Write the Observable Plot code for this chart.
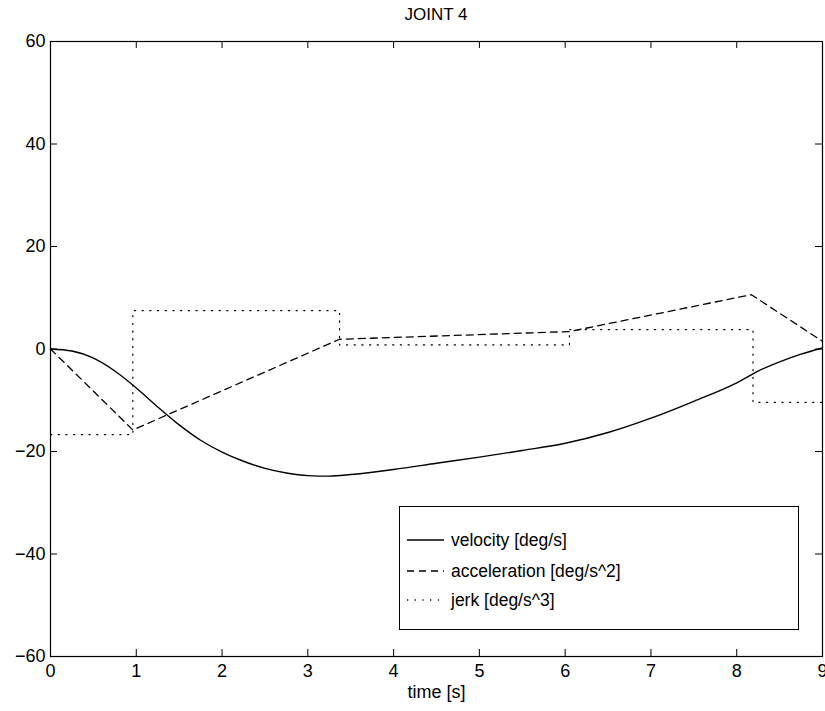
<!DOCTYPE html>
<html>
<head>
<meta charset="utf-8">
<script src="https://cdn.jsdelivr.net/npm/d3@7"></script>
<script src="https://cdn.jsdelivr.net/npm/@observablehq/plot@0.6"></script>
<style>
  body { margin: 0; background: #fff; }
  #wrap { position: relative; width: 825px; height: 711px; font-family: "Liberation Sans", Arial, Helvetica, sans-serif; }
  #title { height: 28px; box-sizing: border-box; padding: 5px 3px 0 50px; text-align: center; font-size: 17px; line-height: 19px; color: #000; }
  #legend { position: absolute; left: 399px; top: 506px; width: 400px; height: 124px; border: 1px solid #000; background: #fff; box-sizing: border-box; }
  .row { position: absolute; left: 7px; height: 20px; display: flex; align-items: center; font-size: 17.5px; color: #000; }
  .row svg { margin-right: 7px; }
</style>
</head>
<body>
<div id="wrap">
  <div id="title">JOINT 4</div>
  <div id="chart"></div>
  <div id="legend"></div>
</div>
<script>
// ---- data ----
const velT = [0, 0.25, 0.5, 0.75, 1.0, 1.25, 1.5, 1.75, 2.0, 2.25, 2.5, 2.75, 3.0, 3.25, 3.5, 4.0, 4.5, 5.0, 5.5, 6.0, 6.5, 7.0, 7.5, 8.0, 8.25, 8.5, 8.75, 9.0];
const velV = [0, -0.4, -1.8, -4.3, -7.6, -11.3, -14.8, -17.8, -20.1, -21.9, -23.3, -24.2, -24.7, -24.8, -24.5, -23.5, -22.3, -21.1, -19.8, -18.4, -16.3, -13.5, -10.2, -6.6, -4.3, -2.5, -1.0, 0.2];
const accT = [0, 0.96, 3.37, 6.05, 8.17, 9.0];
const accV = [0, -15.8, 1.9, 3.4, 10.6, 1.5];
const jerkT = [0, 0.96, 3.37, 6.05, 8.19, 9.0];
const jerkV = [-16.7, 7.5, 0.8, 3.8, -10.4, -10.4];
const xTicks = [0, 1, 2, 3, 4, 5, 6, 7, 8, 9];
const yTicks = [-60, -40, -20, 0, 20, 40, 60];
const seriesNames = ["velocity [deg/s]", "acceleration [deg/s^2]", "jerk [deg/s^3]"];
const titleText = "JOINT 4";
const xLabel = "time [s]";

const vel = velT.map((t, i) => ({t, v: velV[i]}));
const acc = accT.map((t, i) => ({t, v: accV[i]}));
const jerk = jerkT.map((t, i) => ({t, v: jerkV[i]}));

const W = 825, H = 683, mT = 13, mB = 55, mL = 50, mR = 3;
const plotH = H - mT - mB, plotW = W - mL - mR, tk = 7;
const dashAcc = "7,5", dashJerk = "1.2,6.5";

const chart = Plot.plot({
  width: W, height: H,
  marginTop: mT, marginBottom: mB, marginLeft: mL, marginRight: mR,
  style: {fontFamily: "'Liberation Sans', Arial, Helvetica, sans-serif", fontSize: "18px", color: "#000", background: "#fff", overflow: "visible"},
  x: {domain: [0, 9]},
  y: {domain: [-60, 60]},
  marks: [
    Plot.frame({stroke: "#000", strokeWidth: 1.2}),
    Plot.tickX(xTicks, {x: d => d, insetTop: plotH - tk, stroke: "#000"}),
    Plot.tickX(xTicks, {x: d => d, insetBottom: plotH - tk, stroke: "#000"}),
    Plot.tickY(yTicks, {y: d => d, insetRight: plotW - tk, stroke: "#000"}),
    Plot.tickY(yTicks, {y: d => d, insetLeft: plotW - tk, stroke: "#000"}),
    Plot.axisX({ticks: xTicks, tickSize: 0, tickPadding: 8, fontSize: 18, label: xLabel, labelAnchor: "center", labelArrow: "none", labelOffset: 41}),
    Plot.axisY({ticks: yTicks, tickSize: 0, tickPadding: 5, fontSize: 18, label: null}),
    Plot.line(jerk, {x: "t", y: "v", curve: "step-after", stroke: "#000", strokeWidth: 1.2, strokeDasharray: dashJerk}),
    Plot.line(acc, {x: "t", y: "v", stroke: "#000", strokeWidth: 1.3, strokeDasharray: dashAcc}),
    Plot.line(vel, {x: "t", y: "v", curve: "monotone-x", stroke: "#000", strokeWidth: 1.4})
  ]
});
document.getElementById("chart").appendChild(chart);
document.getElementById("title").textContent = titleText;

// legend
const legend = document.getElementById("legend");
const dashes = [null, dashAcc, dashJerk];
const tops = [23, 54, 83];
seriesNames.forEach((name, i) => {
  const row = document.createElement("div");
  row.className = "row";
  row.style.top = tops[i] + "px";
  const dash = dashes[i] ? ` stroke-dasharray="${dashes[i]}"` : "";
  row.innerHTML = `<svg width="37" height="6"><line x1="0" y1="3" x2="37" y2="3" stroke="#000" stroke-width="1.3"${dash}/></svg><span>${name}</span>`;
  legend.appendChild(row);
});
</script>
</body>
</html>
